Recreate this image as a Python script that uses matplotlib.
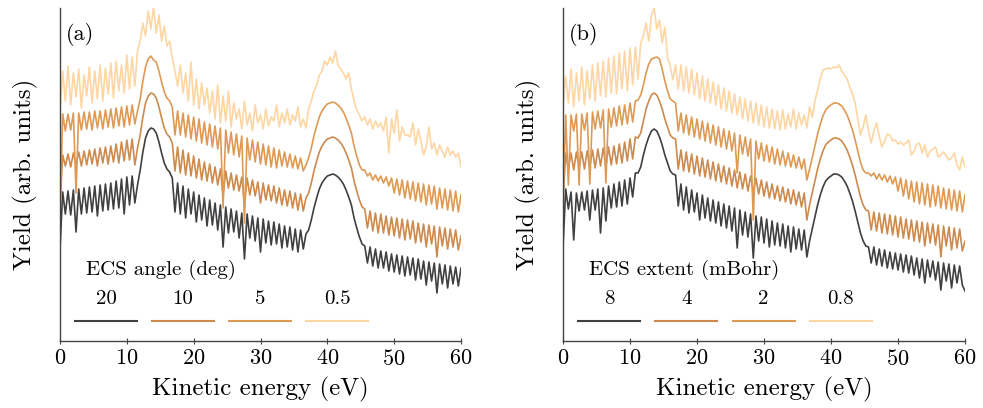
import numpy as np
import matplotlib.pyplot as plt

plt.rcParams['font.family'] = ['cmr10', 'DejaVu Serif']
plt.rcParams['mathtext.fontset'] = 'cm'
plt.rcParams['axes.formatter.use_mathtext'] = True

# sampling grid of the spectra (eV)
energy = np.linspace(0, 60, 151)

# panel (a): ECS angle (deg)
angle_labels = ['20', '10', '5', '0.5']
yield_a_20 = [91, 149, 127, 150, 126, 151, 109, 152, 127, 153, 128, 154, 129, 155, 125, 156, 130, 157, 131, 158, 132,
              160, 133, 162, 127, 164, 136, 165, 138, 156,
              171, 189, 203, 210, 213, 212, 208, 199, 188, 178, 172, 169, 163,
              129, 158, 127, 155, 123, 152, 127, 149, 119, 146, 121, 143, 115, 141, 116, 138, 111, 136, 94, 134,
              108, 132, 109, 130, 103, 128, 82, 127, 103, 125, 100, 123, 89, 122, 98, 120, 96, 119, 97, 117,
              93, 115, 94, 114, 91, 112, 89, 111, 92, 107,
              111, 121, 133, 143, 152, 158, 162, 165, 166, 167, 166, 164, 161, 157, 151, 144, 136, 123, 113, 104, 97, 95,
              78, 94, 75, 92, 73, 90, 73, 89, 70, 87, 69, 86, 67, 85, 65, 84, 66, 83, 61, 82,
              62, 80, 56, 79, 60, 78, 48, 77, 57, 76, 53, 75, 57, 74, 55, 73]
yield_a_10 = [136, 186, 175, 187, 174, 188, 176, 189, 175, 190, 176, 191, 177, 192, 175, 193, 178, 194, 177, 195, 179,
              197, 178, 199, 180, 201, 181, 202, 176, 193,
              206, 224, 238, 245, 248, 247, 243, 234, 223, 213, 207, 204, 198,
              170, 194, 168, 191, 166, 188, 165, 185, 163, 182, 161, 179, 160, 177, 158, 174, 156, 172, 145, 170,
              153, 168, 151, 166, 150, 164, 136, 163, 146, 161, 145, 159, 138, 158, 141, 156, 140, 155, 138, 153,
              136, 151, 135, 150, 133, 148, 131, 147, 130, 143,
              148, 158, 170, 180, 189, 195, 199, 202, 203, 204, 203, 201, 198, 194, 188, 181, 173, 160, 150, 141, 134, 132,
              113, 130, 110, 128, 108, 127, 108, 125, 106, 124, 105, 123, 103, 122, 101, 121, 102, 120, 98, 118,
              99, 117, 94, 116, 97, 115, 84, 114, 95, 113, 92, 112, 94, 111, 91, 105]
yield_a_5 = [126, 227, 210, 227, 211, 228, 148, 228, 211, 229, 212, 229, 211, 230, 213, 230, 212, 231, 214, 232, 213,
             233, 215, 234, 214, 235, 216, 236, 217, 230,
             242, 260, 274, 282, 285, 281, 279, 270, 259, 249, 243, 240, 234,
             206, 230, 206, 228, 204, 226, 202, 224, 200, 222, 198, 219, 196, 217, 194, 215, 192, 213, 133, 211,
             188, 209, 186, 207, 184, 205, 118, 203, 181, 201, 179, 199, 177, 197, 176, 195, 174, 193, 173, 191,
             175, 189, 174, 187, 173, 185, 172, 183, 170, 176,
             183, 193, 205, 215, 224, 230, 234, 237, 238, 239, 238, 236, 233, 229, 223, 216, 208, 195, 185, 176, 171, 171,
             165, 168, 161, 166, 160, 165, 158, 164, 155, 163, 148, 162, 146, 161, 143, 160, 142, 159, 140, 158,
             139, 157, 136, 156, 137, 155, 132, 153, 133, 152, 131, 151, 130, 150, 129, 146]
yield_a_05 = [231, 270, 240, 275, 236, 268, 244, 272, 233, 266, 245, 274, 238, 270, 242, 276, 240, 273, 247, 278, 243,
              280, 250, 276, 248, 286, 252, 284, 255, 290,
              300, 318, 305, 330, 312, 334, 308, 326, 300, 315, 295, 300, 283,
              270, 255, 276, 248, 268, 240, 279, 236, 262, 232, 258, 236, 253, 228, 250, 222, 256, 218, 245, 220,
              250, 214, 238, 222, 232, 212, 240, 216, 228, 210, 236, 218, 226, 212, 232, 215, 224, 220, 236, 214,
              228, 218, 232, 216, 226, 220, 234, 214, 222, 213,
              232, 240, 250, 256, 266, 270, 280, 276, 284, 278, 290, 276, 272, 268, 262, 268, 252, 240, 231, 226, 220, 224,
              216, 222, 212, 220, 214, 218, 210, 224, 188, 222, 208, 231, 200, 214, 206, 206, 204, 218, 196, 212,
              200, 186, 194, 214, 192, 198, 186, 196, 190, 184, 194, 186, 190, 184, 188, 174]

# panel (b): ECS extent (mBohr)
extent_labels = ['8', '4', '2', '0.8']
yield_b_8 = [93, 152, 132, 149, 101, 148, 130, 149, 131, 150, 121, 151, 131, 152, 108, 153, 120, 155, 133, 157, 134,
             159, 135, 161, 137, 163, 144, 168, 168, 174,
             186, 196, 204, 210, 212, 210, 204, 196, 186, 178, 170, 167, 166,
             135, 157, 131, 154, 128, 151, 129, 148, 121, 146, 123, 143, 120, 141, 118, 139, 115, 137, 113, 135,
             110, 133, 93, 131, 106, 129, 104, 127, 83, 125, 100, 124, 98, 122, 94, 120, 96, 118, 95, 117,
             93, 115, 89, 114, 92, 112, 91, 111, 84, 100,
             112, 124, 136, 146, 154, 160, 163, 165, 167, 167, 166, 164, 160, 155, 148, 140, 130, 119, 108, 100, 95, 94,
             78, 94, 76, 92, 75, 91, 73, 89, 72, 88, 71, 87, 69, 86, 68, 85, 66, 83, 63, 82,
             58, 81, 64, 80, 61, 79, 51, 78, 60, 77, 53, 76, 58, 75, 56, 50]
yield_b_4 = [140, 188, 172, 188, 171, 189, 173, 189, 172, 190, 174, 191, 173, 192, 175, 193, 174, 194, 176, 195, 177,
             197, 178, 199, 180, 202, 182, 204, 203, 208,
             220, 232, 240, 246, 248, 246, 240, 232, 222, 214, 206, 203, 202,
             172, 191, 170, 189, 169, 187, 167, 185, 165, 183, 164, 181, 162, 179, 160, 177, 159, 175, 157, 173,
             155, 171, 153, 169, 152, 167, 150, 165, 148, 163, 147, 161, 145, 159, 143, 157, 142, 155, 140, 154,
             139, 152, 137, 151, 136, 149, 134, 148, 121, 136,
             148, 160, 172, 182, 190, 196, 199, 201, 203, 203, 202, 200, 196, 191, 184, 176, 166, 155, 144, 136, 131, 130,
             111, 129, 110, 128, 108, 127, 107, 126, 106, 125, 104, 124, 103, 122, 102, 121, 100, 120, 99, 119,
             95, 118, 98, 117, 96, 116, 84, 115, 95, 114, 91, 113, 93, 112, 90, 100]
yield_b_2 = [134, 226, 156, 226, 210, 227, 156, 227, 211, 228, 157, 229, 212, 230, 213, 231, 158, 232, 214, 233, 215,
             235, 216, 236, 217, 238, 219, 240, 241, 246,
             256, 268, 277, 282, 283, 284, 282, 272, 260, 250, 242, 240, 238,
             210, 228, 208, 226, 206, 224, 204, 222, 202, 220, 200, 218, 198, 216, 196, 214, 194, 212, 192, 210,
             190, 208, 168, 206, 187, 204, 185, 202, 121, 200, 182, 198, 180, 196, 179, 194, 177, 192, 176, 190,
             175, 188, 174, 186, 173, 184, 172, 182, 161, 172,
             183, 195, 207, 217, 225, 231, 234, 236, 238, 238, 237, 235, 231, 226, 219, 211, 201, 190, 179, 171, 168, 168,
             165, 168, 162, 167, 161, 166, 159, 165, 157, 164, 150, 163, 145, 161, 142, 160, 139, 159, 137, 158,
             136, 157, 134, 156, 135, 155, 133, 153, 132, 152, 131, 151, 130, 150, 129, 146]
yield_b_08 = [235, 265, 238, 272, 234, 268, 240, 274, 236, 270, 242, 276, 240, 278, 245, 280, 244, 283, 248, 285,
              247, 288, 252, 290, 250, 293, 256, 294, 262, 298,
              305, 318, 300, 325, 333, 312, 321, 298, 314, 284, 275, 261, 276,
              252, 276, 250, 274, 248, 272, 246, 268, 242, 265, 240, 262, 238, 259, 236, 256, 232, 253, 230, 250,
              228, 247, 226, 244, 222, 242, 220, 240, 218, 238, 216, 236, 214, 234, 213, 232, 212, 230, 211, 231,
              212, 227, 214, 232, 212, 228, 216, 226, 213, 234,
              224, 240, 251, 262, 271, 272, 273, 272, 274, 273, 276, 270, 266, 262, 254, 247, 238, 222, 206, 214, 226, 210,
              198, 210, 218, 205, 194, 200, 207, 206, 200, 201, 197, 199, 196, 198, 201, 186, 190, 197, 198, 188,
              196, 184, 190, 192, 194, 184, 186, 189, 185, 181, 183, 188, 176, 171, 184, 174]

colors = ['#404040', '#cc8a4e', '#de9a55', '#fdd6a4']

fig = plt.figure(figsize=(9.83, 4.08), dpi=100)
ax_a = fig.add_axes([60 / 983, 67 / 408, 401 / 983, 333 / 408])
ax_b = fig.add_axes([563 / 983, 67 / 408, 402 / 983, 333 / 408])

panels = [
    (ax_a, '(a)', 'ECS angle (deg)', angle_labels, [yield_a_20, yield_a_10, yield_a_5, yield_a_05]),
    (ax_b, '(b)', 'ECS extent (mBohr)', extent_labels, [yield_b_8, yield_b_4, yield_b_2, yield_b_08]),
]

for ax, tag, key_title, labels, curves in panels:
    for y, c in zip(curves, colors):
        ax.plot(energy, y, color=c, lw=1.2)

    ax.set_xlim(0, 60)
    ax.set_ylim(0, 333)
    ax.set_xticks(range(0, 61, 10))
    ax.set_yticks([])
    for s in ['top', 'right']:
        ax.spines[s].set_visible(False)
    for s in ['left', 'bottom']:
        ax.spines[s].set_color('#444444')
        ax.spines[s].set_linewidth(1.0)
    ax.tick_params(axis='x', labelsize=16, color='#444444', length=4, direction='inout')
    ax.set_xlabel('Kinetic energy (eV)', fontsize=18, labelpad=6)
    ax.set_ylabel('Yield (arb. units)', fontsize=18, labelpad=16)
    ax.text(0.015, 0.955, tag, transform=ax.transAxes, fontsize=16, va='top', ha='left')

    # hand-made key: label above a short line
    ax.text(0.064, 0.213, key_title, transform=ax.transAxes, fontsize=15, va='center', ha='left')
    for k, (lab, c) in enumerate(zip(labels, colors)):
        xc = 0.115 + 0.192 * k
        ax.text(xc, 0.126, lab, transform=ax.transAxes, fontsize=15, va='center', ha='center')
        ax.plot([xc - 0.077, xc + 0.077], [0.06, 0.06], transform=ax.transAxes, color=c, lw=1.5)

plt.savefig('out.png', dpi=100)
